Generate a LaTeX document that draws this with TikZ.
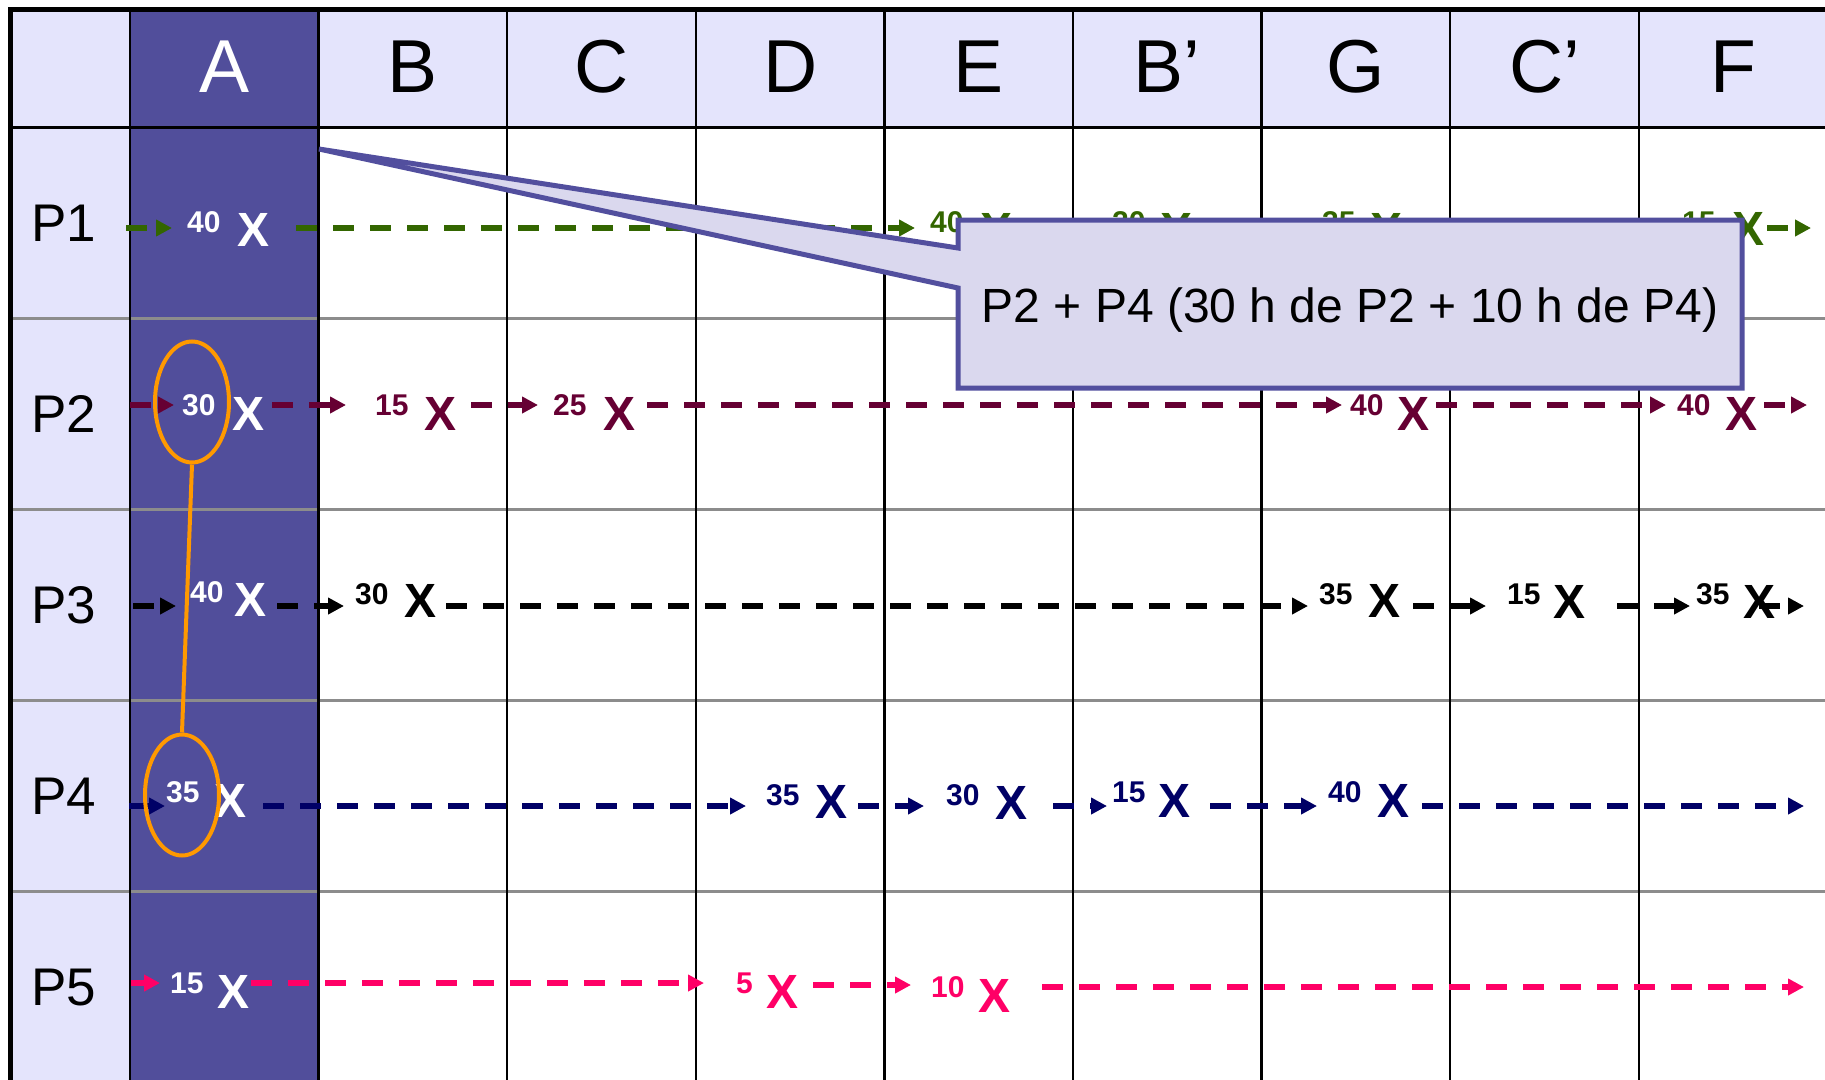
\documentclass[tikz,border=0pt]{standalone}
\usepackage{fontspec}
\setmainfont{Liberation Sans}
\usetikzlibrary{arrows.meta,shapes.geometric}
\definecolor{lav}{HTML}{E4E4FC}
\definecolor{colA}{HTML}{514E9B}
\definecolor{cfill}{HTML}{DAD8EE}
\definecolor{cborder}{HTML}{524F9E}
\definecolor{pgreen}{HTML}{336600}
\definecolor{pmaroon}{HTML}{660033}
\definecolor{pnavy}{HTML}{000066}
\definecolor{ppink}{HTML}{FF0066}
\definecolor{porange}{HTML}{FF9900}
\definecolor{rowgray}{HTML}{8C8C8C}
\tikzset{
  seg/.style={line width=5.5pt, dash pattern=on 21pt off 16pt, -{Triangle[length=16pt,width=16pt]}},
  num/.style={font=\bfseries\fontsize{30}{30}\selectfont, inner sep=0pt, anchor=base west},
  ex/.style={font=\bfseries\fontsize{48}{48}\selectfont, inner sep=0pt, anchor=base west},
  headlab/.style={font=\fontsize{75}{75}\selectfont, inner sep=0pt, anchor=base},
  rowlab/.style={font=\fontsize{53}{53}\selectfont, inner sep=0pt, anchor=base west},
  ring/.style={ellipse, draw=porange, line width=4pt, minimum width=74pt, minimum height=121pt, inner sep=0pt},
}
\begin{document}
\begin{tikzpicture}[x=1pt,y=-1pt]
\useasboundingbox (0,0) rectangle (1825,1079);
\begin{scope}
\clip (0,0) rectangle (1825,1079);
% fills
\fill[lav] (10,10) rectangle (1830,127);
\fill[lav] (10,127) rectangle (130,1085);
\fill[colA] (130,10) rectangle (318.6,1085);
% row lines
\foreach \yy in {318,509,700,891} \draw[rowgray, line width=3pt] (12,\yy) -- (1830,\yy);
% column lines
\foreach \i [evaluate=\i as \xx using 130+188.6*\i] in {0,...,8}
  \draw[black, line width=2.5pt] (\xx,10) -- (\xx,1085);
% header line and borders
\draw[black, line width=3pt] (10,127) -- (1830,127);
\draw[black, line width=5pt] (10.5,1085) -- (10.5,9.5) -- (1830,9.5);
\end{scope}
% header labels
\node[headlab, text=white] (hA) at (224.3,92) {A};
\node[headlab] (hB) at (412.9,92) {B};
\node[headlab] (hC) at (601.5,92) {C};
\node[headlab] (hD) at (790.1,92) {D};
\node[headlab] (hE) at (978.7,92) {E};
\node[headlab] (hB2) at (1167.3,92) {B’};
\node[headlab] (hG) at (1355.9,92) {G};
\node[headlab] (hC2) at (1544.5,92) {C’};
\node[headlab] (hF) at (1733.1,92) {F};
% row labels
\node[rowlab] (lp1) at (31,241.5) {P1};
\node[rowlab] (lp2) at (31,432.5) {P2};
\node[rowlab] (lp3) at (31,623.5) {P3};
\node[rowlab] (lp4) at (31,814.5) {P4};
\node[rowlab] (lp5) at (31,1005.5) {P5};

% ---------------- P1 (green)
\coordinate (a1s) at (126,228); \coordinate (a1e) at (172,228);
\coordinate (b1s) at (296,228); \coordinate (b1e) at (915,228);
\coordinate (c1s) at (1767,228); \coordinate (c1e) at (1811,228);
\draw[seg,pgreen] (a1s) -- (a1e);
\draw[seg,pgreen] (b1s) -- (b1e);
\draw[seg,pgreen] (c1s) -- (c1e);
\node[num,text=white] (n1a) at (187,232) {40};
\node[ex,text=white] (x1a) at (237,246) {X};
\node[num,text=pgreen] (n1e) at (930,232) {40};
\node[ex,text=pgreen] (x1e) at (980,246) {X};
\node[num,text=pgreen] (n1b) at (1112,232) {20};
\node[ex,text=pgreen] (x1b) at (1160,246) {X};
\node[num,text=pgreen] (n1g) at (1322,232) {35};
\node[ex,text=pgreen] (x1g) at (1370,246) {X};
\node[num,text=pgreen] (n1f) at (1682,232) {15};
\node[ex,text=pgreen] (x1f) at (1732,245) {X};

% ---------------- P2 (maroon)
\coordinate (a2s) at (130,405); \coordinate (a2e) at (174,405);
\coordinate (b2s) at (272,405); \coordinate (b2e) at (346,405);
\coordinate (c2s) at (471,405); \coordinate (c2e) at (538,405);
\coordinate (d2s) at (647,405); \coordinate (d2e) at (1342,405);
\coordinate (e2s) at (1436,405); \coordinate (e2e) at (1666,405);
\coordinate (f2s) at (1764,405); \coordinate (f2e) at (1807,405);
\foreach \p in {a,b,c,d,e,f} \draw[seg,pmaroon] (\p2s) -- (\p2e);
\node[num,text=white] (n2a) at (182,415) {30};
\node[ex,text=white] (x2a) at (232,430) {X};
\node[num,text=pmaroon] (n2b) at (375,415) {15};
\node[ex,text=pmaroon] (x2b) at (424,430) {X};
\node[num,text=pmaroon] (n2c) at (553,415) {25};
\node[ex,text=pmaroon] (x2c) at (603,430) {X};
\node[num,text=pmaroon] (n2g) at (1350,415) {40};
\node[ex,text=pmaroon] (x2g) at (1397,430) {X};
\node[num,text=pmaroon] (n2f) at (1677,415) {40};
\node[ex,text=pmaroon] (x2f) at (1725,430) {X};

% ---------------- P3 (black)
\coordinate (a3s) at (133,606); \coordinate (a3e) at (176,606);
\coordinate (b3s) at (277,606); \coordinate (b3e) at (344,606);
\coordinate (c3s) at (446,606); \coordinate (c3e) at (1308,606);
\coordinate (d3s) at (1413,606); \coordinate (d3e) at (1486,606);
\coordinate (e3s) at (1617,606); \coordinate (e3e) at (1690,606);
\node[num,text=white] (n3a) at (190,602) {40};
\node[ex,text=white] (x3a) at (234,616) {X};
\node[num] (n3b) at (355,604) {30};
\node[ex] (x3b) at (404,617) {X};
\node[num] (n3g) at (1319,604) {35};
\node[ex] (x3g) at (1368,617) {X};
\node[num] (n3c) at (1507,604) {15};
\node[ex] (x3c) at (1553,618) {X};
\node[num] (n3f) at (1696,604) {35};
\node[ex] (x3f) at (1743,618) {X};
\coordinate (f3s) at (1759,606); \coordinate (f3e) at (1804,606);
\foreach \p in {a,b,c,d,e,f} \draw[seg,black] (\p3s) -- (\p3e);

% ---------------- P4 (navy)
\coordinate (a4s) at (129,806); \coordinate (a4e) at (165,806);
\coordinate (b4s) at (263,806); \coordinate (b4e) at (746,806);
\coordinate (c4s) at (858,806); \coordinate (c4e) at (924,806);
\coordinate (d4s) at (1053,806); \coordinate (d4e) at (1107,806);
\coordinate (e4s) at (1210,806); \coordinate (e4e) at (1317,806);
\coordinate (f4s) at (1422,806); \coordinate (f4e) at (1804,806);
\foreach \p in {a,b,c,d,e,f} \draw[seg,pnavy] (\p4s) -- (\p4e);
\node[num,text=white] (n4a) at (166,802) {35};
\node[ex,text=white] (x4a) at (214,817) {X};
\node[num,text=pnavy] (n4d) at (766,805) {35};
\node[ex,text=pnavy] (x4d) at (815,818) {X};
\node[num,text=pnavy] (n4e) at (946,805) {30};
\node[ex,text=pnavy] (x4e) at (995,819) {X};
\node[num,text=pnavy] (n4b) at (1112,802) {15};
\node[ex,text=pnavy] (x4b) at (1158,817) {X};
\node[num,text=pnavy] (n4g) at (1328,802) {40};
\node[ex,text=pnavy] (x4g) at (1377,817) {X};

% ---------------- P5 (pink)
\coordinate (a5s) at (131,983); \coordinate (a5e) at (160,983);
\coordinate (b5s) at (251,983); \coordinate (b5e) at (704,983);
\coordinate (c5s) at (813,985); \coordinate (c5e) at (911,985);
\coordinate (d5s) at (1042,987); \coordinate (d5e) at (1804,987);
\foreach \p in {a,b,c,d} \draw[seg,ppink] (\p5s) -- (\p5e);
\node[num,text=white] (n5a) at (170,993) {15};
\node[ex,text=white] (x5a) at (217,1008) {X};
\node[num,text=ppink] (n5d) at (736,993) {5};
\node[ex,text=ppink] (x5d) at (766,1008) {X};
\node[num,text=ppink] (n5e) at (931,997) {10};
\node[ex,text=ppink] (x5e) at (978,1012) {X};

% ---------------- callout
\coordinate (tip) at (319,149);
\coordinate (cnw) at (958,220); \coordinate (cne) at (1742,220);
\coordinate (cse) at (1742,388); \coordinate (csw) at (958,388);
\coordinate (cpl) at (958,288); \coordinate (cpu) at (958,248);
\filldraw[fill=cfill, draw=cborder, line width=5pt]
  (cnw) -- (cne) -- (cse) -- (csw) -- (cpl) -- (tip) -- (cpu) -- cycle;
\node[font=\fontsize{48}{48}\selectfont, inner sep=0pt, anchor=base] (callout) at (1350,322) {P2 + P4 (30 h de P2 + 10 h de P4)};

% ---------------- orange rings
\node[ring] (o2) at (192,402) {};
\node[ring] (o4) at (182,795) {};
\draw[porange, line width=4pt] (o2.south) -- (o4.north);
\end{tikzpicture}
\end{document}
